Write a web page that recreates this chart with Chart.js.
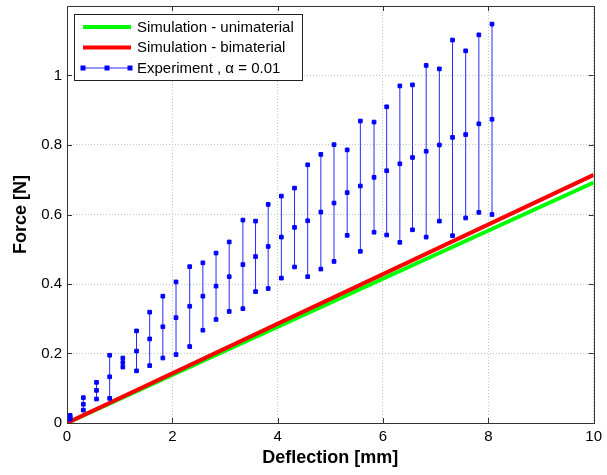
<!DOCTYPE html>
<html>
<head>
<meta charset="utf-8">
<script src="https://cdn.jsdelivr.net/npm/chart.js@4.4.1/dist/chart.umd.min.js"></script>
<style>
  html, body { margin: 0; padding: 0; background: #fff; }
  #wrap { width: 607px; height: 475px; }
</style>
</head>
<body>
<div id="wrap"><canvas id="c" width="607" height="475"></canvas></div>
<script>
// simulation lines
const simX = [0, 10];
const uniY = [0, 0.692];
const biY  = [0, 0.714];

// experiment: x positions with lower / middle / upper readings
const expX   = [0.06, 0.31, 0.56, 0.81, 1.06, 1.32, 1.57, 1.82, 2.07, 2.33, 2.58, 2.83, 3.08, 3.34, 3.58, 3.82, 4.07,
                4.32, 4.57, 4.82, 5.07, 5.32, 5.57, 5.83, 6.07, 6.32, 6.56, 6.82, 7.07, 7.32, 7.57, 7.82, 8.07];
const expHi  = [0.022, 0.073, 0.117, 0.195, 0.187, 0.265, 0.319, 0.365, 0.406, 0.450, 0.461, 0.489, 0.521, 0.584, 0.581, 0.629, 0.653,
                0.676, 0.743, 0.773, 0.801, 0.786, 0.869, 0.866, 0.910, 0.970, 0.973, 1.029, 1.019, 1.102, 1.071, 1.117, 1.148];
const expMid = [0.016, 0.054, 0.094, 0.133, 0.174, 0.207, 0.242, 0.277, 0.303, 0.336, 0.365, 0.394, 0.421, 0.456, 0.479, 0.508, 0.535,
                0.563, 0.582, 0.607, 0.633, 0.663, 0.682, 0.707, 0.726, 0.746, 0.764, 0.782, 0.800, 0.822, 0.830, 0.861, 0.874];
const expLo  = [0.011, 0.037, 0.069, 0.071, 0.161, 0.150, 0.165, 0.187, 0.197, 0.220, 0.267, 0.298, 0.321, 0.329, 0.378, 0.387, 0.417,
                0.449, 0.421, 0.443, 0.465, 0.540, 0.494, 0.549, 0.541, 0.520, 0.556, 0.535, 0.581, 0.539, 0.590, 0.606, 0.600];

const xTicks = [0, 2, 4, 6, 8, 10];
const yTicks = [0, 0.2, 0.4, 0.6, 0.8, 1];

const labels = ['Simulation - unimaterial', 'Simulation - bimaterial', 'Experiment , \u03b1 = 0.01'];

const FONT = "'Liberation Sans', Arial, sans-serif";
const BLUE = '#0000ff';

// one vertical bar per x, separated by null gaps
const expPts = [];
expX.forEach((x, i) => {
  expPts.push({ x, y: expLo[i] }, { x, y: expMid[i] }, { x, y: expHi[i] }, { x, y: null });
});

const frame = {
  id: 'frame',
  afterDatasetsDraw(chart) {
    const { ctx, chartArea: a, scales: { x, y } } = chart;
    ctx.save();
    ctx.strokeStyle = '#333';
    ctx.lineWidth = 1;
    ctx.strokeRect(Math.round(a.left) + 0.5, Math.round(a.top) + 0.5,
                   Math.round(a.right - a.left), Math.round(a.bottom - a.top));
    // inner ticks on all four sides
    ctx.beginPath();
    xTicks.slice(1, -1).forEach(v => {
      const px = Math.round(x.getPixelForValue(v)) + 0.5;
      ctx.moveTo(px, a.bottom); ctx.lineTo(px, a.bottom - 5);
      ctx.moveTo(px, a.top);    ctx.lineTo(px, a.top + 5);
    });
    yTicks.slice(1).forEach(v => {
      const py = Math.round(y.getPixelForValue(v)) + 0.5;
      ctx.moveTo(a.left, py);  ctx.lineTo(a.left + 5, py);
      ctx.moveTo(a.right, py); ctx.lineTo(a.right - 5, py);
    });
    ctx.stroke();

    // legend box
    const bx = 74.5, by = 14.5, bw = 228, bh = 66;
    ctx.fillStyle = '#fff';
    ctx.fillRect(bx, by, bw, bh);
    ctx.strokeStyle = '#222';
    ctx.strokeRect(bx, by, bw, bh);
    const rows = [27, 47.5, 68];
    const ds = [chart.data.datasets[2], chart.data.datasets[1], chart.data.datasets[0]];
    ctx.font = '15px ' + FONT;
    ctx.textBaseline = 'middle';
    rows.forEach((ry, i) => {
      const d = ds[i];
      ctx.strokeStyle = d.borderColor;
      ctx.lineWidth = d.borderWidth;
      ctx.beginPath(); ctx.moveTo(83, ry); ctx.lineTo(131, ry); ctx.stroke();
      if (i === 2) {
        ctx.fillStyle = BLUE;
        [83, 107, 130].forEach(mx => ctx.fillRect(mx - 2.5, ry - 2.5, 5, 5));
      }
      ctx.fillStyle = '#000';
      ctx.fillText(labels[i], 137, ry + 0.5);
    });
    ctx.restore();
  }
};

new Chart(document.getElementById('c'), {
  type: 'line',
  data: {
    datasets: [
      {
        label: labels[2],
        data: expPts,
        borderColor: '#2a2aff',
        borderWidth: 1,
        backgroundColor: BLUE,
        pointStyle: 'rect',
        pointRadius: 2.6,
        pointBorderWidth: 1,
        pointBorderColor: BLUE,
        spanGaps: false,
        order: 0
      },
      {
        label: labels[1],
        data: simX.map((x, i) => ({ x, y: biY[i] })),
        borderColor: '#ff0000',
        borderWidth: 4,
        pointRadius: 0,
        order: 1
      },
      {
        label: labels[0],
        data: simX.map((x, i) => ({ x, y: uniY[i] })),
        borderColor: '#00ff00',
        borderWidth: 4,
        pointRadius: 0,
        order: 2
      }
    ]
  },
  options: {
    responsive: false,
    animation: false,
    devicePixelRatio: 1,
    layout: { padding: { top: 6, right: 12, left: 0, bottom: 0 } },
    plugins: { legend: { display: false }, tooltip: { enabled: false } },
    scales: {
      x: {
        type: 'linear', min: 0, max: 10,
        afterBuildTicks: s => { s.ticks = xTicks.map(v => ({ value: v })); },
        afterFit: s => { s.height = 52; },
        ticks: { color: '#000', font: { family: FONT, size: 15 }, padding: 5, maxRotation: 0 },
        grid: { color: '#c4c4c4', lineWidth: 1, drawTicks: false },
        border: { display: false, dash: [1, 2] },
        title: { display: true, text: 'Deflection [mm]', color: '#000',
                 font: { family: FONT, size: 18, weight: 'bold' }, padding: { top: 0, bottom: 6 } }
      },
      y: {
        type: 'linear', min: 0, max: 1.2,
        afterBuildTicks: s => { s.ticks = yTicks.map(v => ({ value: v })); },
        afterFit: s => { s.width = 67; s.paddingTop = 0; },
        ticks: { color: '#000', font: { family: FONT, size: 15 }, padding: 5,
                 callback: v => String(+v.toFixed(1)) },
        grid: { color: '#c4c4c4', lineWidth: 1, drawTicks: false },
        border: { display: false, dash: [1, 2] },
        title: { display: true, text: 'Force [N]', color: '#000',
                 font: { family: FONT, size: 18, weight: 'bold' }, padding: { top: 10, bottom: 0 } }
      }
    }
  },
  plugins: [frame]
});
</script>
</body>
</html>
